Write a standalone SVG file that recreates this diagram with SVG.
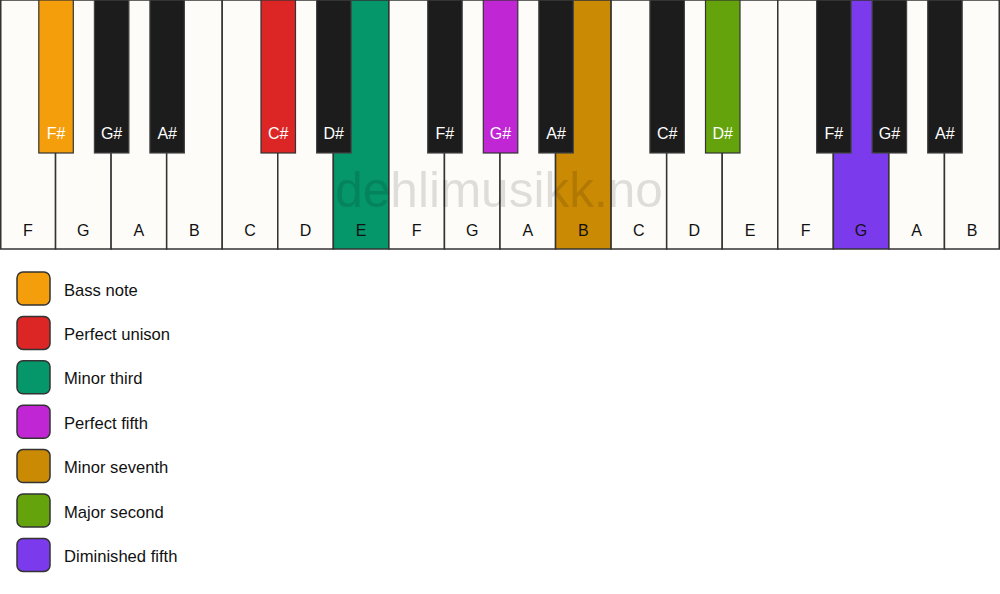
<svg xmlns="http://www.w3.org/2000/svg" width="1000" height="594" viewBox="0 0 1000 594">
<style>
text{font-family:"Liberation Sans",Arial,sans-serif;font-size:16px}
.w{fill:#fdfcf8;stroke:#333;stroke-width:1.5}
.b{fill:#1c1c1c;stroke:#444;stroke-width:1.2}
.wl{fill:#111;text-anchor:middle}
.bl{fill:#fff;text-anchor:middle}
.lg{stroke:#333;stroke-width:1.5}
.lt{fill:#111;font-size:16.6px}
</style>
<rect width="1000" height="594" fill="#ffffff"/>
<g id="white-keys">
<g id="wk0"><rect class="w" x="0.75" y="0" width="54.81" height="249"/><text class="wl" x="27.8" y="236">F</text></g>
<g id="wk1"><rect class="w" x="55.56" y="0" width="55.56" height="249"/><text class="wl" x="83.3" y="236">G</text></g>
<g id="wk2"><rect class="w" x="111.11" y="0" width="55.56" height="249"/><text class="wl" x="138.9" y="236">A</text></g>
<g id="wk3"><rect class="w" x="166.67" y="0" width="55.56" height="249"/><text class="wl" x="194.4" y="236">B</text></g>
<g id="wk4"><rect class="w" x="222.22" y="0" width="55.56" height="249"/><text class="wl" x="250" y="236">C</text></g>
<g id="wk5"><rect class="w" x="277.78" y="0" width="55.56" height="249"/><text class="wl" x="305.6" y="236">D</text></g>
<g id="wk6"><rect class="w" x="333.33" y="0" width="55.56" height="249" style="fill:#059669"/><text class="wl" x="361.1" y="236">E</text></g>
<g id="wk7"><rect class="w" x="388.89" y="0" width="55.56" height="249"/><text class="wl" x="416.7" y="236">F</text></g>
<g id="wk8"><rect class="w" x="444.44" y="0" width="55.56" height="249"/><text class="wl" x="472.2" y="236">G</text></g>
<g id="wk9"><rect class="w" x="500" y="0" width="55.56" height="249"/><text class="wl" x="527.8" y="236">A</text></g>
<g id="wk10"><rect class="w" x="555.56" y="0" width="55.56" height="249" style="fill:#ca8a04"/><text class="wl" x="583.3" y="236">B</text></g>
<g id="wk11"><rect class="w" x="611.11" y="0" width="55.56" height="249"/><text class="wl" x="638.9" y="236">C</text></g>
<g id="wk12"><rect class="w" x="666.67" y="0" width="55.56" height="249"/><text class="wl" x="694.4" y="236">D</text></g>
<g id="wk13"><rect class="w" x="722.22" y="0" width="55.56" height="249"/><text class="wl" x="750" y="236">E</text></g>
<g id="wk14"><rect class="w" x="777.78" y="0" width="55.56" height="249"/><text class="wl" x="805.6" y="236">F</text></g>
<g id="wk15"><rect class="w" x="833.33" y="0" width="55.56" height="249" style="fill:#7c3aed"/><text class="wl" x="861.1" y="236">G</text></g>
<g id="wk16"><rect class="w" x="888.89" y="0" width="55.56" height="249"/><text class="wl" x="916.7" y="236">A</text></g>
<g id="wk17"><rect class="w" x="944.44" y="0" width="54.81" height="249"/><text class="wl" x="972.2" y="236">B</text></g>
</g>
<g id="watermark"><text x="499" y="207" text-anchor="middle" style="font-size:49.5px;fill:#000;fill-opacity:0.12">dehlimusikk.no</text></g>
<g id="black-keys">
<g id="bk1"><rect class="b" x="38.8" y="0" width="34.5" height="153" style="fill:#f59e0b;stroke:#333"/><text class="bl" x="56" y="139">F#</text></g>
<g id="bk2"><rect class="b" x="94.4" y="0" width="34.5" height="153"/><text class="bl" x="111.6" y="139">G#</text></g>
<g id="bk3"><rect class="b" x="149.9" y="0" width="34.5" height="153"/><text class="bl" x="167.2" y="139">A#</text></g>
<g id="bk5"><rect class="b" x="261" y="0" width="34.5" height="153" style="fill:#dc2626;stroke:#333"/><text class="bl" x="278.3" y="139">C#</text></g>
<g id="bk6"><rect class="b" x="316.6" y="0" width="34.5" height="153"/><text class="bl" x="333.8" y="139">D#</text></g>
<g id="bk8"><rect class="b" x="427.7" y="0" width="34.5" height="153"/><text class="bl" x="444.9" y="139">F#</text></g>
<g id="bk9"><rect class="b" x="483.3" y="0" width="34.5" height="153" style="fill:#c026d3;stroke:#333"/><text class="bl" x="500.5" y="139">G#</text></g>
<g id="bk10"><rect class="b" x="538.8" y="0" width="34.5" height="153"/><text class="bl" x="556" y="139">A#</text></g>
<g id="bk12"><rect class="b" x="649.9" y="0" width="34.5" height="153"/><text class="bl" x="667.2" y="139">C#</text></g>
<g id="bk13"><rect class="b" x="705.5" y="0" width="34.5" height="153" style="fill:#65a30d;stroke:#333"/><text class="bl" x="722.7" y="139">D#</text></g>
<g id="bk15"><rect class="b" x="816.6" y="0" width="34.5" height="153"/><text class="bl" x="833.8" y="139">F#</text></g>
<g id="bk16"><rect class="b" x="872.1" y="0" width="34.5" height="153"/><text class="bl" x="889.4" y="139">G#</text></g>
<g id="bk17"><rect class="b" x="927.7" y="0" width="34.5" height="153"/><text class="bl" x="944.9" y="139">A#</text></g>
</g>
<g id="legend">
<g id="lg-bass"><rect class="lg" x="17" y="272" width="33" height="33" rx="6" fill="#f59e0b"/><text class="lt" x="64" y="295.5">Bass note</text></g>
<g id="lg-unison"><rect class="lg" x="17" y="316.4" width="33" height="33" rx="6" fill="#dc2626"/><text class="lt" x="64" y="339.9">Perfect unison</text></g>
<g id="lg-m3"><rect class="lg" x="17" y="360.8" width="33" height="33" rx="6" fill="#059669"/><text class="lt" x="64" y="384.3">Minor third</text></g>
<g id="lg-p5"><rect class="lg" x="17" y="405.2" width="33" height="33" rx="6" fill="#c026d3"/><text class="lt" x="64" y="428.7">Perfect fifth</text></g>
<g id="lg-m7"><rect class="lg" x="17" y="449.6" width="33" height="33" rx="6" fill="#ca8a04"/><text class="lt" x="64" y="473.1">Minor seventh</text></g>
<g id="lg-M2"><rect class="lg" x="17" y="494" width="33" height="33" rx="6" fill="#65a30d"/><text class="lt" x="64" y="517.5">Major second</text></g>
<g id="lg-d5"><rect class="lg" x="17" y="538.4" width="33" height="33" rx="6" fill="#7c3aed"/><text class="lt" x="64" y="561.9">Diminished fifth</text></g>
</g>
</svg>
